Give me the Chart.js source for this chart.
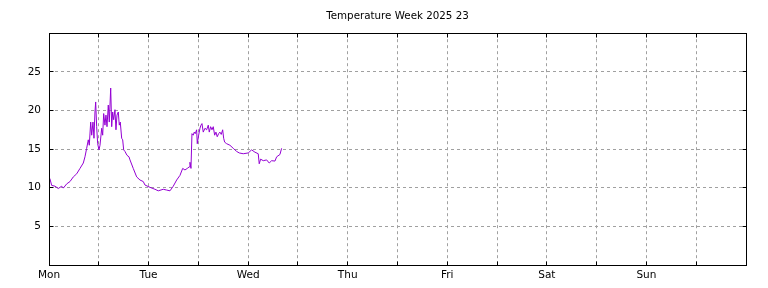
<!DOCTYPE html>
<html>
<head>
<meta charset="utf-8">
<script src="https://cdn.jsdelivr.net/npm/chart.js@4/dist/chart.umd.min.js"></script>
<style>
  html, body { margin: 0; padding: 0; background: #fff; }
  #wrap { width: 768px; height: 288px; }
</style>
</head>
<body>
<div id="wrap"><canvas id="chart" width="768" height="288"></canvas></div>
<script>
// hours since Monday 00:00
const hours = [
  0.2, 0.65, 1.45, 2.24, 3.06, 3.45, 4.27, 5.06, 5.86, 6.67, 7.47, 8.27,
  8.67, 9.08, 9.47, 9.71, 10.05, 10.29, 10.6, 10.84, 11.08, 11.25, 11.49, 11.73,
  12.05, 12.29, 12.7, 12.94, 13.18, 13.49, 13.73, 13.98, 14.29, 14.53, 14.87,
  15.11, 15.35, 15.59, 15.9, 16.14, 16.39, 16.7, 16.94, 17.18, 17.52, 17.76,
  18.0, 18.31, 18.8, 19.28, 19.52, 20.31, 21.13, 21.93, 22.72, 23.13, 24.34,
  25.54, 26.34, 27.54, 28.36, 29.16, 29.95, 30.77, 31.57, 32.22, 32.77, 33.33,
  33.81, 33.98, 34.22, 34.46, 34.77, 35.01, 35.25, 35.59, 35.74, 36.07, 36.39,
  36.63, 36.87, 37.18, 37.59, 38.0, 38.39, 38.63, 38.96, 39.28, 39.59, 39.93,
  40.24, 40.55, 40.89, 41.2, 41.52, 41.86, 42.1, 42.34, 42.82, 43.61, 44.41,
  45.23, 45.86, 46.82, 48.02, 48.84, 49.64, 50.43, 50.67, 51.01, 51.64, 52.46,
  53.08, 53.66, 54.46, 54.87, 55.66, 56.07
];
const temps = [
  11.2, 10.3, 10.2, 9.9, 10.2, 9.95, 10.5, 10.8, 11.4, 11.8, 12.5, 13.2,
  14.0, 15.1, 16.2, 15.5, 18.5, 16.8, 18.5, 16.4, 19.8, 21.1, 17.9, 15.7,
  14.9, 15.5, 17.7, 16.8, 19.6, 18.1, 19.4, 17.9, 20.7, 18.5, 22.9,
  17.9, 19.8, 18.8, 20.1, 17.5, 19.4, 19.8, 18.1, 18.5, 16.4, 16.2,
  14.9, 14.7, 14.2, 14.0, 13.6, 12.5, 11.4, 11.0, 10.8, 10.35, 10.05,
  9.8, 9.6, 9.8, 9.7, 9.6, 10.2, 11.0, 11.6, 12.5, 12.3, 12.5,
  12.7, 13.3, 12.5, 17.0, 16.8, 17.2, 17.0, 17.5, 15.7, 16.8, 17.7,
  18.1, 18.3, 17.2, 17.7, 17.5, 18.1, 17.2, 17.9, 17.5, 17.9, 16.8,
  17.2, 16.6, 17.0, 17.2, 16.9, 17.5, 16.4, 15.9, 15.7, 15.5, 15.1,
  14.7, 14.5, 14.4, 14.5, 14.9, 14.6, 14.4, 13.1, 13.7, 13.5, 13.6,
  13.2, 13.5, 13.45, 14.0, 14.3, 15.1
];
const dayNames = ['Mon', 'Tue', 'Wed', 'Thu', 'Fri', 'Sat', 'Sun'];
const yTicks = [5, 10, 15, 20, 25];

const points = hours.map((h, i) => ({ x: h, y: temps[i] }));
const fontFamily = 'DejaVu Sans';

// same pixel snapping Chart.js uses for 1px grid lines
const snap = p => Math.round(p - 0.5) + 0.5;

// box on all four sides plus small inward ticks, gnuplot style
const frame = {
  id: 'frame',
  afterDraw(chart) {
    const { ctx, chartArea: a, scales } = chart;
    const l = snap(a.left), r = snap(a.right), t = snap(a.top), b = snap(a.bottom);
    ctx.save();
    ctx.strokeStyle = '#000';
    ctx.lineWidth = 1;
    ctx.beginPath();
    for (let h = 12; h < 168; h += 12) {
      const px = snap(scales.x.getPixelForValue(h));
      ctx.moveTo(px, t); ctx.lineTo(px, t + 4);
      ctx.moveTo(px, b); ctx.lineTo(px, b - 4);
    }
    yTicks.forEach(v => {
      const py = snap(scales.y.getPixelForValue(v));
      ctx.moveTo(l, py); ctx.lineTo(l + 4, py);
      ctx.moveTo(r, py); ctx.lineTo(r - 4, py);
    });
    ctx.stroke();
    ctx.strokeRect(l, t, r - l, b - t);
    ctx.restore();
  }
};

new Chart(document.getElementById('chart'), {
  type: 'line',
  data: {
    datasets: [{
      data: points,
      borderColor: '#9400d3',
      borderWidth: 1,
      pointRadius: 0,
      tension: 0,
      fill: false
    }]
  },
  options: {
    responsive: false,
    animation: false,
    layout: { padding: { left: 0, right: 22, top: 0, bottom: 0 } },
    plugins: {
      legend: { display: false },
      tooltip: { enabled: false },
      title: {
        display: true,
        fullSize: false,
        text: 'Temperature Week 2025 23',
        color: '#000',
        font: { family: fontFamily, size: 10.3, weight: 'normal' },
        padding: { top: 10, bottom: 10.84 }
      }
    },
    scales: {
      x: {
        type: 'linear',
        min: 0,
        max: 168,
        afterFit(s) { s.height = 23; },
        ticks: {
          stepSize: 12,
          autoSkip: false,
          maxRotation: 0,
          padding: 4,
          color: '#000',
          font: { family: fontFamily, size: 10.5 },
          callback: v => (v % 24 === 0 && v < 168) ? dayNames[v / 24] : ''
        },
        grid: {
          color: ctx => (ctx.tick && (ctx.tick.value === 0 || ctx.tick.value === 168)) ? 'rgba(0,0,0,0)' : '#a0a0a0',
          drawTicks: false,
          lineWidth: 1
        },
        border: { display: false, dash: [3, 3] }
      },
      y: {
        min: 0,
        max: 30,
        afterFit(s) { s.width = 49; },
        ticks: {
          stepSize: 5,
          padding: 8,
          color: '#000',
          font: { family: fontFamily, size: 10.5 },
          callback: v => yTicks.includes(v) ? String(v) : ''
        },
        grid: {
          color: ctx => (ctx.tick && (ctx.tick.value === 0 || ctx.tick.value === 30)) ? 'rgba(0,0,0,0)' : '#a0a0a0',
          drawTicks: false,
          lineWidth: 1
        },
        border: { display: false, dash: [3, 3] }
      }
    }
  },
  plugins: [frame]
});
</script>
</body>
</html>
